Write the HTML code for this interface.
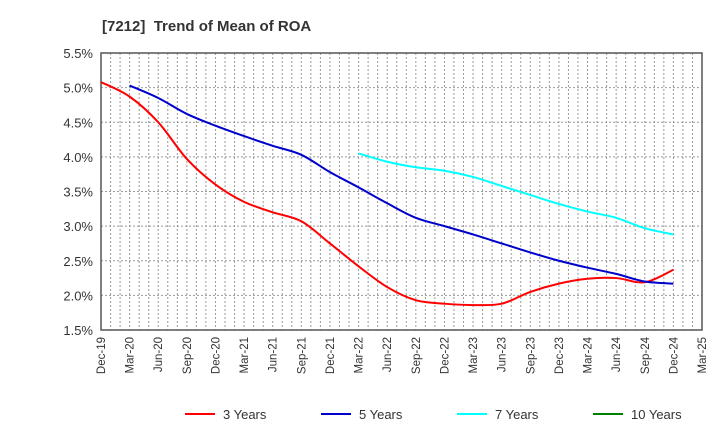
<!DOCTYPE html>
<html><head><meta charset="utf-8"><style>
body{margin:0;background:#fff;font-family:"Liberation Sans",sans-serif}
svg text{font-family:"Liberation Sans",sans-serif;fill:#333}
</style></head><body>
<svg id="c" width="720" height="440">
<text x="102" y="31" font-size="15" font-weight="bold" style="white-space:pre">[7212]  Trend of Mean of ROA</text>
<g id="grid"></g><g id="axes"></g><g id="series"></g><g id="legend"></g>
</svg>
<script>
const xLabels=["Dec-19","Mar-20","Jun-20","Sep-20","Dec-20","Mar-21","Jun-21","Sep-21","Dec-21","Mar-22","Jun-22","Sep-22","Dec-22","Mar-23","Jun-23","Sep-23","Dec-23","Mar-24","Jun-24","Sep-24","Dec-24","Mar-25"];
const yTicks=[1.5,2.0,2.5,3.0,3.5,4.0,4.5,5.0,5.5];
const seriesNames=["3 Years","5 Years","7 Years","10 Years"];
const seriesColors=["#ff0000","#0000cc","#00ffff","#008000"];
const s3=[5.08,4.87,4.5,3.97,3.6,3.35,3.2,3.07,2.75,2.42,2.12,1.93,1.88,1.86,1.88,2.05,2.17,2.24,2.25,2.19,2.37];
const s5=[null,5.03,4.85,4.62,4.45,4.3,4.16,4.03,3.78,3.56,3.33,3.12,3.0,2.88,2.75,2.62,2.5,2.4,2.31,2.2,2.17];
const s7=[null,null,null,null,null,null,null,null,null,4.05,3.93,3.85,3.8,3.71,3.58,3.45,3.32,3.21,3.12,2.97,2.88];
const s10=[];
const L=101,R=702,T=53,B=330,NS="http://www.w3.org/2000/svg";
const xq=i=>L+(R-L)*i/(xLabels.length-1);
const yv=v=>B-(v-1.5)/4*(B-T);
function mk(t,a,p){const e=document.createElementNS(NS,t);for(const k in a)e.setAttribute(k,a[k]);p.appendChild(e);return e;}
const grid=document.getElementById('grid'),axes=document.getElementById('axes'),ser=document.getElementById('series'),leg=document.getElementById('legend');
for(let m=1;m<(xLabels.length-1)*3;m++){const x=L+(R-L)*m/((xLabels.length-1)*3);
 const l=mk('line',{x1:x,x2:x,y1:T,y2:B,stroke:'#999','stroke-dasharray':'2,2'},grid);
 
 }
yTicks.forEach(v=>{const y=yv(v);
 const l=mk('line',{x1:L,x2:R,y1:y,y2:y,stroke:'#999','stroke-dasharray':'2,2'},grid);
 
 
 const t=mk('text',{x:L-8,y:y+5,'text-anchor':'end','font-size':'13'},axes);t.textContent=v.toFixed(1)+'%';
 
 });
xLabels.forEach((lb,i)=>{const x=xq(i);
 const t=mk('text',{transform:`translate(${x+4},337) rotate(-90)`,'text-anchor':'end','font-size':'11.5'},axes);t.textContent=lb;
 
 });
const fr=mk('rect',{x:L,y:T,width:R-L,height:B-T,fill:'none',stroke:'#555','stroke-width':1.5},axes);


function path(pts){if(pts.length<2)return '';let d=`M${pts[0][0]},${pts[0][1]}`;
 for(let i=0;i<pts.length-1;i++){const p0=pts[i-1]||pts[i],p1=pts[i],p2=pts[i+1],p3=pts[i+2]||p2;
  const c1=[p1[0]+(p2[0]-p0[0])/6,p1[1]+(p2[1]-p0[1])/6],c2=[p2[0]-(p3[0]-p1[0])/6,p2[1]-(p3[1]-p1[1])/6];
  d+=` C${c1[0]},${c1[1]} ${c2[0]},${c2[1]} ${p2[0]},${p2[1]}`;}return d;}
[s3,s5,s7,s10].forEach((s,k)=>{const pts=[];s.forEach((v,i)=>{if(v!=null)pts.push([xq(i),yv(v)]);});
 if(pts.length<2)return;
 const p=mk('path',{d:path(pts),fill:'none',stroke:seriesColors[k],'stroke-width':2},ser);
 
 });
seriesNames.forEach((n,k)=>{const x=185+k*136;
 const g=mk('g',{},leg);
 
 
 mk('line',{x1:x,x2:x+30,y1:414,y2:414,stroke:seriesColors[k],'stroke-width':2},g);
 const t=mk('text',{x:x+38,y:419,'font-size':'13'},g);t.textContent=n;});
</script>
</body></html>
